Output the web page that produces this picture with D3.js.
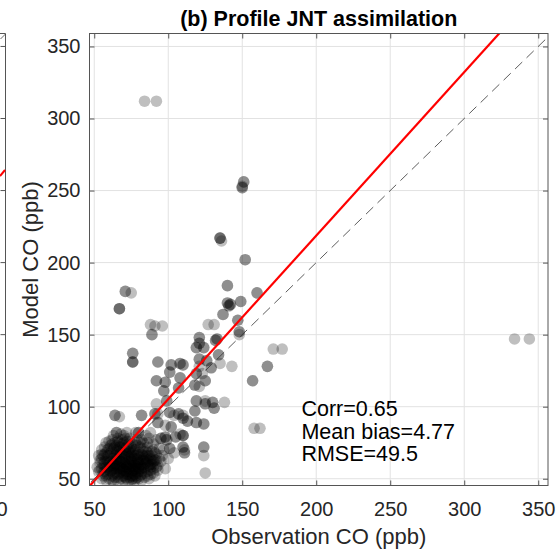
<!DOCTYPE html>
<html>
<head>
<meta charset="utf-8">
<script src="https://cdn.jsdelivr.net/npm/d3@7"></script>
<style>
  html, body { margin: 0; padding: 0; background: #ffffff; }
  svg { display: block; }
  text { font-family: "Liberation Sans", Arial, Helvetica, sans-serif; }
</style>
</head>
<body>
<div id="chart"></div>
<script>
// ---------------- DATA ----------------
const titleText = "(b) Profile JNT assimilation";
const xLabelText = "Observation CO (ppb)";
const yLabelText = "Model CO (ppb)";
const statsLines = ["Corr=0.65", "Mean bias=4.77", "RMSE=49.5"];

const xTicks = [50, 100, 150, 200, 250, 300, 350];
const yTicks = [50, 100, 150, 200, 250, 300, 350];
const xDomain = [46.8, 356.6];
const yDomain = [45.3, 359];

// regression line: model = slope * obs + intercept
const fitSlope = 1.135;
const fitIntercept = -8.3;

// observation CO (ppb)
const obsCO = [
  84,92,334,344,151,151,150,150,150,135,
  135,135,136,152,152,140,140,160,160,140,
  140,142,142,149,149,141,141,71,71,75,
  67,67,67,137,137,147,147,148,148,148,
  127,131,121,121,133,133,88,91,96,89,
  89,76,76,76,76,76,93,93,102,102,
  108,108,101,101,92,92,98,98,108,108,
  97,97,107,107,99,99,92,91,91,101,
  101,107,107,110,110,102,102,98,98,105,
  105,110,110,110,110,111,111,98,118,118,
  113,113,119,119,124,124,125,125,119,119,
  125,118,118,121,125,125,110,110,119,119,
  123,121,121,121,121,121,119,119,124,124,
  132,132,134,134,126,126,129,129,135,143,
  130,130,138,131,131,124,124,124,125,157,
  157,158,162,171,177,167,167,64,64,67,
  82,82,65,65,80,80,72,93,93,93,
  98,104,110,108,110,101,101,111,95,99,
  100,104,97,
  52,53,54,55,55,56,56,57,57,58,
  58,59,59,60,60,60,61,61,62,62,
  62,63,63,64,64,64,65,65,65,66,
  66,66,67,67,67,68,68,68,69,69,
  69,70,70,70,70,71,71,71,72,72,
  72,72,73,73,73,74,74,74,75,75,
  75,75,76,76,76,77,77,77,78,78,
  78,79,79,79,80,80,80,81,81,81,
  82,82,83,83,83,84,84,85,85,86,
  86,87,87,88,88,89,89,90,90,91,
  92,93,94,95,96,85,88,92,60,57,
  53,55,63,68,74,78,73,77,82,66,
  70,58,63,87,91,95,99,54,59,61,
  64,66,68,70,71,73,75,77,79,80,
  62,65,67,69,72,74,76,78,81,83,
  55,57,59,61,63,65,67,69,71,73,
  75,77,79,81,83,85,87,89,91,93,
  56,58,60,62,64,66,68,70,72,74,
  76,78,80,82,84,86,88,90,92,94,
  57,59,61,63,65,67,69,71,73,75,
  77,79,81,83,85,87,89,91,86,84,
  54,56,58,60,62,64,66,68,70,72,
  74,76,78,80,82,84,86,88,90,92,
  60,62,64,66,68,70,72,74,76,78,
  80,82,84,86,88,63,67,71,75,79,
  58,62,66,70,74,78,82,86,90,55,
  65,69,73,77,81,71,75,79,67,63
];

// model CO (ppb)
const modelCO = [
  312,312,147,147,256,256,252,252,253,217,
  217,217,215,202,202,184,184,179,179,172,
  172,171,171,173,173,170,170,180,180,179,
  168,168,168,164,164,160,160,152,152,150,
  157,157,148,148,147,147,157,156,156,150,
  150,137,137,131,131,131,131,131,129,129,
  130,130,124,124,118,118,117,117,120,120,
  111,111,113,113,104,104,102,95,95,96,
  96,95,95,92,92,86,86,79,79,79,
  79,80,80,72,72,68,68,57,97,97,
  90,90,89,89,88,88,102,102,104,104,
  104,115,115,114,118,118,129,129,123,123,
  123,133,133,128,144,144,141,141,141,141,
  146,146,136,136,132,132,127,127,130,128,
  103,103,103,99,99,72,72,66,54,118,
  118,85,85,140,140,128,128,94,94,93,
  94,94,82,82,82,82,82,95,89,89,
  87,94,94,81,80,71,71,70,78,77,
  64,68,70,
  58,55,61,57,64,52,60,67,55,63,
  58,70,53,61,66,56,73,59,64,52,
  69,57,61,75,66,54,60,70,63,57,
  78,51,65,62,72,55,59,68,64,52,
  74,58,61,66,80,55,70,63,50,59,
  67,76,53,62,65,57,71,60,49,68,
  54,63,58,74,52,61,66,56,70,50,
  59,64,54,77,57,68,61,52,72,65,
  59,55,63,75,69,57,51,66,61,72,
  55,59,78,64,53,69,60,57,74,63,
  67,59,71,62,66,80,82,77,76,72,
  66,70,80,81,78,82,48,48,49,48,
  49,49,48,50,52,78,77,56,62,55,
  59,64,62,54,60,57,59,53,60,55,
  60,55,58,57,55,64,62,57,60,58,
  50,62,66,68,71,73,75,77,78,74,
  72,70,73,75,71,69,66,63,60,56,
  54,52,50,49,51,53,50,52,53,51,
  50,52,50,53,54,52,56,54,58,64,
  59,57,62,64,67,69,67,65,69,66,
  64,67,63,66,64,62,66,68,68,62,
  63,66,68,71,74,72,70,72,71,72,
  68,69,66,63,67,65,63,60,62,63,
  58,56,57,59,57,56,58,55,56,55,
  58,57,60,58,58,53,54,51,52,51,
  75,77,76,75,76,75,77,75,70,67,
  65,62,60,59,57,68,61,62,60,59
];

// ---------------- CHART ----------------
const W = 557, H = 550;
const box = { left: 89.5, right: 548, top: 33.5, bottom: 485.5 };
const FONT = '"Liberation Sans", Arial, Helvetica, sans-serif';

const svg = d3.select("#chart").append("svg")
  .attr("width", W).attr("height", H)
  .style("background", "#fff");

const x = d3.scaleLinear().domain(xDomain).range([box.left, box.right]);
const y = d3.scaleLinear().domain(yDomain).range([box.bottom, box.top]);

svg.append("defs").append("clipPath").attr("id", "plotclip")
  .append("rect")
  .attr("x", box.left).attr("y", box.top)
  .attr("width", box.right - box.left).attr("height", box.bottom - box.top);

// ---- partial left panel (neighbour subplot edge) ----
const lp = svg.append("g");
lp.append("path")
  .attr("d", `M0,${box.top}H5.5V${box.bottom}H0`)
  .attr("fill", "none").attr("stroke", "#555").attr("stroke-width", 1);
lp.selectAll("line.lt").data(yTicks).join("line")
  .attr("x1", 0.5).attr("x2", 5.5)
  .attr("y1", d => y(d)).attr("y2", d => y(d))
  .attr("stroke", "#555");
lp.append("line")
  .attr("x1", 0).attr("y1", 176).attr("x2", 5).attr("y2", 170)
  .attr("stroke", "#ff0000").attr("stroke-width", 2);
lp.append("line")
  .attr("x1", 0.5).attr("y1", 39).attr("x2", 5.5).attr("y2", 34)
  .attr("stroke", "#444").attr("stroke-width", 0.8);
lp.append("text")
  .attr("x", -9).attr("y", 516)
  .attr("text-anchor", "middle")
  .attr("font-size", 20).attr("fill", "#262626")
  .text(String(xTicks[xTicks.length - 1]));

// ---- grid ----
const grid = svg.append("g");
grid.selectAll("line.gx").data(xTicks).join("line")
  .attr("x1", d => x(d)).attr("x2", d => x(d))
  .attr("y1", box.top).attr("y2", box.bottom)
  .attr("stroke", "#e2e2e2").attr("stroke-width", 1);
grid.selectAll("line.gy").data(yTicks).join("line")
  .attr("x1", box.left).attr("x2", box.right)
  .attr("y1", d => y(d)).attr("y2", d => y(d))
  .attr("stroke", "#e2e2e2").attr("stroke-width", 1);

// ---- scatter points ----
const pts = obsCO.map((o, i) => ({ o: o, m: modelCO[i] }));
svg.append("g").attr("clip-path", "url(#plotclip)")
  .selectAll("circle").data(pts).join("circle")
  .attr("cx", d => x(d.o)).attr("cy", d => y(d.m))
  .attr("r", 5.8)
  .attr("fill", "#000").attr("fill-opacity", 0.25);

// ---- 1:1 dashed line ----
const lines = svg.append("g").attr("clip-path", "url(#plotclip)");
lines.append("line")
  .attr("x1", x(40)).attr("y1", y(40))
  .attr("x2", x(370)).attr("y2", y(370))
  .attr("stroke", "#333").attr("stroke-width", 0.8)
  .attr("stroke-dasharray", "10,6");

// ---- regression line ----
const fx0 = 40, fx1 = 370;
lines.append("line")
  .attr("x1", x(fx0)).attr("y1", y(fitSlope * fx0 + fitIntercept))
  .attr("x2", x(fx1)).attr("y2", y(fitSlope * fx1 + fitIntercept))
  .attr("stroke", "#ff0000").attr("stroke-width", 2.2);

// ---- axes ----
function styleAxis(g) {
  g.select(".domain").remove();
  g.selectAll(".tick line").attr("stroke", "#555");
  g.selectAll(".tick text").attr("fill", "#262626")
    .attr("font-size", 20).attr("font-family", FONT);
}
svg.append("g").attr("transform", `translate(0,${box.bottom})`)
  .call(d3.axisBottom(x).tickValues(xTicks).tickSizeInner(-5).tickSizeOuter(0).tickPadding(16))
  .call(styleAxis);
svg.append("g").attr("transform", `translate(${box.left},0)`)
  .call(d3.axisLeft(y).tickValues(yTicks).tickSizeInner(-5).tickSizeOuter(0).tickPadding(9))
  .call(styleAxis);
svg.append("g").attr("transform", `translate(0,${box.top})`)
  .call(d3.axisTop(x).tickValues(xTicks).tickSizeInner(-5).tickSizeOuter(0).tickFormat(""))
  .call(styleAxis);
svg.append("g").attr("transform", `translate(${box.right},0)`)
  .call(d3.axisRight(y).tickValues(yTicks).tickSizeInner(-5).tickSizeOuter(0).tickFormat(""))
  .call(styleAxis);

// ---- box ----
svg.append("rect")
  .attr("x", box.left).attr("y", box.top)
  .attr("width", box.right - box.left).attr("height", box.bottom - box.top)
  .attr("fill", "none").attr("stroke", "#555").attr("stroke-width", 1);

// ---- stats text ----
const st = svg.append("text")
  .attr("x", x(190)).attr("y", 416)
  .attr("font-size", 21.5).attr("fill", "#000");
statsLines.forEach((s, i) => {
  st.append("tspan").attr("x", x(190)).attr("dy", i === 0 ? 0 : 22.5).text(s);
});

// ---- title & labels ----
svg.append("text")
  .attr("x", (box.left + box.right) / 2).attr("y", 26)
  .attr("text-anchor", "middle")
  .attr("font-size", 21.5).attr("font-weight", "bold").attr("fill", "#000")
  .text(titleText);
svg.append("text")
  .attr("x", (box.left + box.right) / 2).attr("y", 544)
  .attr("text-anchor", "middle")
  .attr("font-size", 22).attr("fill", "#262626")
  .text(xLabelText);
svg.append("text")
  .attr("transform", `translate(38,${(box.top + box.bottom) / 2}) rotate(-90)`)
  .attr("text-anchor", "middle")
  .attr("font-size", 22).attr("fill", "#262626")
  .text(yLabelText);
</script>
</body>
</html>
